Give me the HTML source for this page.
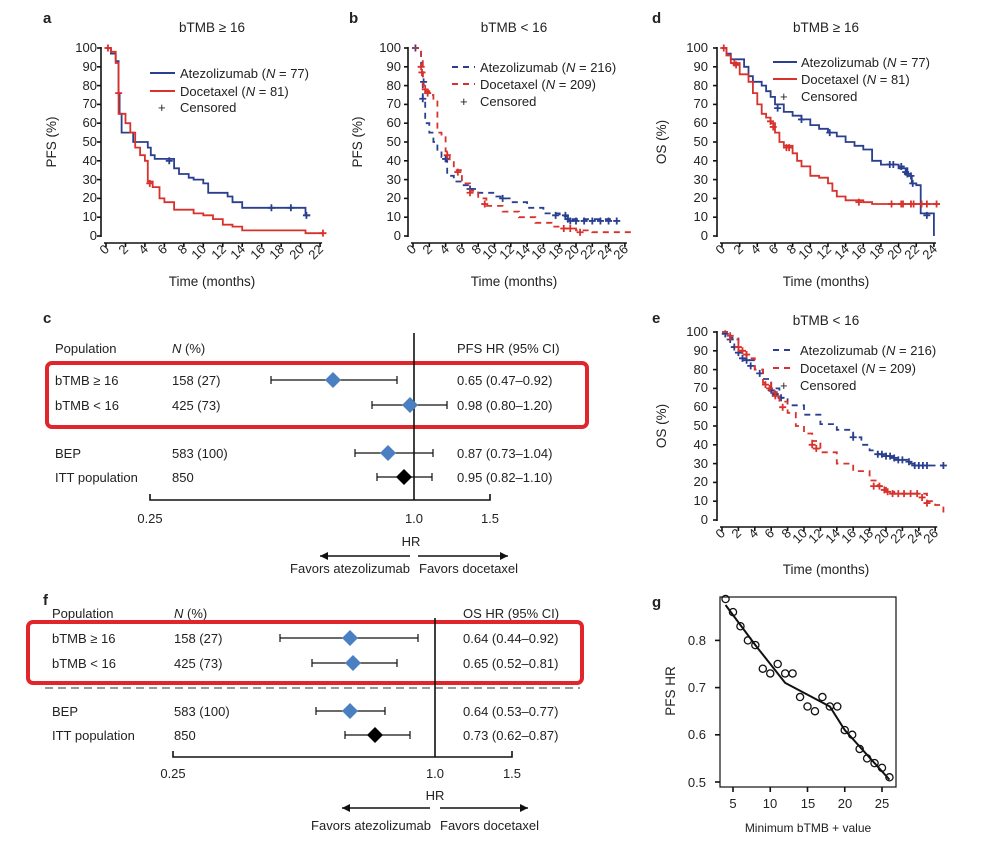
<!DOCTYPE html>
<html><head><meta charset="utf-8"><style>
body{margin:0;background:#fff}
svg{display:block;font-family:"Liberation Sans",Arial,sans-serif;fill:#222}
text{font-size:13px}
.t{font-size:13.5px}
.b{font-weight:bold;font-size:15px}
.ax{stroke:#111;stroke-width:1.6;fill:none}
</style></head><body>
<svg id="s" width="988" height="847" viewBox="0 0 988 847" xmlns="http://www.w3.org/2000/svg">
<rect width="988" height="847" fill="#fff"/>
<text class="b" x="43" y="23">a</text><text class="b" x="349" y="23">b</text><text class="b" x="652" y="23">d</text>
<text class="b" x="43" y="323">c</text><text class="b" x="652" y="323">e</text>
<text class="b" x="43" y="605">f</text><text class="b" x="652" y="607">g</text>
<text class="t" x="212" y="32" text-anchor="middle">bTMB ≥ 16</text>
<text class="t" x="514" y="32" text-anchor="middle">bTMB &lt; 16</text>
<text class="t" x="826" y="32" text-anchor="middle">bTMB ≥ 16</text>
<text class="t" x="826" y="325" text-anchor="middle">bTMB &lt; 16</text>
<text class="t" transform="translate(56,142) rotate(-90)" text-anchor="middle">PFS (%)</text>
<text class="t" transform="translate(362,142) rotate(-90)" text-anchor="middle">PFS (%)</text>
<text class="t" transform="translate(666,142) rotate(-90)" text-anchor="middle">OS (%)</text>
<text class="t" transform="translate(666,426) rotate(-90)" text-anchor="middle">OS (%)</text>
<text class="t" x="212" y="286" text-anchor="middle">Time (months)</text>
<text class="t" x="514" y="286" text-anchor="middle">Time (months)</text>
<text class="t" x="826" y="286" text-anchor="middle">Time (months)</text>
<text class="t" x="826" y="574" text-anchor="middle">Time (months)</text>
<g id="yt" text-anchor="end">
<text x="97" y="52">100</text><text x="97" y="71">90</text><text x="97" y="90">80</text><text x="97" y="108">70</text><text x="97" y="127">60</text><text x="97" y="146">50</text><text x="97" y="165">40</text><text x="97" y="184">30</text><text x="97" y="202">20</text><text x="97" y="221">10</text><text x="97" y="240">0</text>
</g>
<g transform="translate(304,0)" text-anchor="end">
<text x="97" y="52">100</text><text x="97" y="71">90</text><text x="97" y="90">80</text><text x="97" y="108">70</text><text x="97" y="127">60</text><text x="97" y="146">50</text><text x="97" y="165">40</text><text x="97" y="184">30</text><text x="97" y="202">20</text><text x="97" y="221">10</text><text x="97" y="240">0</text>
</g>
<g transform="translate(611,0)" text-anchor="end">
<text x="97" y="52">100</text><text x="97" y="71">90</text><text x="97" y="90">80</text><text x="97" y="108">70</text><text x="97" y="127">60</text><text x="97" y="146">50</text><text x="97" y="165">40</text><text x="97" y="184">30</text><text x="97" y="202">20</text><text x="97" y="221">10</text><text x="97" y="240">0</text>
</g>
<g transform="translate(611,284)" text-anchor="end">
<text x="97" y="52">100</text><text x="97" y="71">90</text><text x="97" y="90">80</text><text x="97" y="108">70</text><text x="97" y="127">60</text><text x="97" y="146">50</text><text x="97" y="165">40</text><text x="97" y="184">30</text><text x="97" y="202">20</text><text x="97" y="221">10</text><text x="97" y="240">0</text>
</g>
<g text-anchor="end">
<text transform="translate(110,250) rotate(-45)">0</text><text transform="translate(129,250) rotate(-45)">2</text><text transform="translate(149,250) rotate(-45)">4</text><text transform="translate(168,250) rotate(-45)">6</text><text transform="translate(188,250) rotate(-45)">8</text><text transform="translate(207,250) rotate(-45)">10</text><text transform="translate(227,250) rotate(-45)">12</text><text transform="translate(246,250) rotate(-45)">14</text><text transform="translate(266,250) rotate(-45)">16</text><text transform="translate(285,250) rotate(-45)">18</text><text transform="translate(305,250) rotate(-45)">20</text><text transform="translate(324,250) rotate(-45)">22</text>
</g>
<g text-anchor="end">
<text transform="translate(417,250) rotate(-45)">0</text><text transform="translate(433,250) rotate(-45)">2</text><text transform="translate(450,250) rotate(-45)">4</text><text transform="translate(466,250) rotate(-45)">6</text><text transform="translate(482,250) rotate(-45)">8</text><text transform="translate(498,250) rotate(-45)">10</text><text transform="translate(515,250) rotate(-45)">12</text><text transform="translate(531,250) rotate(-45)">14</text><text transform="translate(547,250) rotate(-45)">16</text><text transform="translate(564,250) rotate(-45)">18</text><text transform="translate(580,250) rotate(-45)">20</text><text transform="translate(596,250) rotate(-45)">22</text><text transform="translate(613,250) rotate(-45)">24</text><text transform="translate(629,250) rotate(-45)">26</text>
</g>
<g text-anchor="end">
<text transform="translate(726,250) rotate(-45)">0</text><text transform="translate(744,250) rotate(-45)">2</text><text transform="translate(761,250) rotate(-45)">4</text><text transform="translate(779,250) rotate(-45)">6</text><text transform="translate(797,250) rotate(-45)">8</text><text transform="translate(814,250) rotate(-45)">10</text><text transform="translate(832,250) rotate(-45)">12</text><text transform="translate(850,250) rotate(-45)">14</text><text transform="translate(867,250) rotate(-45)">16</text><text transform="translate(885,250) rotate(-45)">18</text><text transform="translate(903,250) rotate(-45)">20</text><text transform="translate(920,250) rotate(-45)">22</text><text transform="translate(938,250) rotate(-45)">24</text>
</g>
<g text-anchor="end">
<text transform="translate(726,534) rotate(-45)">0</text><text transform="translate(742,534) rotate(-45)">2</text><text transform="translate(759,534) rotate(-45)">4</text><text transform="translate(775,534) rotate(-45)">6</text><text transform="translate(792,534) rotate(-45)">8</text><text transform="translate(808,534) rotate(-45)">10</text><text transform="translate(824,534) rotate(-45)">12</text><text transform="translate(841,534) rotate(-45)">14</text><text transform="translate(857,534) rotate(-45)">16</text><text transform="translate(874,534) rotate(-45)">18</text><text transform="translate(890,534) rotate(-45)">20</text><text transform="translate(906,534) rotate(-45)">22</text><text transform="translate(923,534) rotate(-45)">24</text><text transform="translate(939,534) rotate(-45)">26</text>
</g>
<g class="t">
<line x1="150" y1="73" x2="175" y2="73" stroke="#2a3f8f" stroke-width="2"/><text x="180" y="78">Atezolizumab (<tspan font-style="italic">N</tspan> = 77)</text>
<line x1="150" y1="91" x2="175" y2="91" stroke="#d9312b" stroke-width="2"/><text x="180" y="96">Docetaxel (<tspan font-style="italic">N</tspan> = 81)</text>
<text x="158" y="112">+</text><text x="180" y="112">Censored</text>
<line x1="452" y1="67" x2="475" y2="67" stroke="#2a3f8f" stroke-width="2" stroke-dasharray="6 5"/><text x="480" y="72">Atezolizumab (<tspan font-style="italic">N</tspan> = 216)</text>
<line x1="452" y1="84" x2="475" y2="84" stroke="#d9312b" stroke-width="2" stroke-dasharray="6 5"/><text x="480" y="89">Docetaxel (<tspan font-style="italic">N</tspan> = 209)</text>
<text x="460" y="106">+</text><text x="480" y="106">Censored</text>
<line x1="773" y1="62" x2="797" y2="62" stroke="#2a3f8f" stroke-width="2"/><text x="801" y="67">Atezolizumab (<tspan font-style="italic">N</tspan> = 77)</text>
<line x1="773" y1="79" x2="797" y2="79" stroke="#d9312b" stroke-width="2"/><text x="801" y="84">Docetaxel (<tspan font-style="italic">N</tspan> = 81)</text>
<text x="780" y="101">+</text><text x="801" y="101">Censored</text>
<line x1="773" y1="350" x2="795" y2="350" stroke="#2a3f8f" stroke-width="2" stroke-dasharray="6 5"/><text x="800" y="355">Atezolizumab (<tspan font-style="italic">N</tspan> = 216)</text>
<line x1="773" y1="368" x2="795" y2="368" stroke="#d9312b" stroke-width="2" stroke-dasharray="6 5"/><text x="800" y="373">Docetaxel (<tspan font-style="italic">N</tspan> = 209)</text>
<text x="780" y="390">+</text><text x="800" y="390">Censored</text>
</g>
<g class="t">
<text x="55" y="353">Population</text><text x="172" y="353"><tspan font-style="italic">N</tspan> (%)</text><text x="457" y="353">PFS HR (95% CI)</text>
<text x="55" y="385">bTMB ≥ 16</text><text x="172" y="385">158 (27)</text><text x="457" y="385">0.65 (0.47–0.92)</text>
<text x="55" y="410">bTMB &lt; 16</text><text x="172" y="410">425 (73)</text><text x="457" y="410">0.98 (0.80–1.20)</text>
<text x="55" y="458">BEP</text><text x="172" y="458">583 (100)</text><text x="457" y="458">0.87 (0.73–1.04)</text>
<text x="55" y="482">ITT population</text><text x="172" y="482">850</text><text x="457" y="482">0.95 (0.82–1.10)</text>
<text x="150" y="523" text-anchor="middle">0.25</text><text x="414" y="523" text-anchor="middle">1.0</text><text x="490" y="523" text-anchor="middle">1.5</text>
<text x="411" y="546" text-anchor="middle">HR</text>
<text x="410" y="573" text-anchor="end">Favors atezolizumab</text><text x="419" y="573">Favors docetaxel</text>
</g>
<rect x="47" y="363" width="540" height="64" rx="5" fill="none" stroke="#e0262a" stroke-width="4"/>
<line x1="414" y1="333" x2="414" y2="500" class="ax"/>
<path d="M150 494V500H490V494" class="ax"/>
<g class="t">
<text x="52" y="618">Population</text><text x="174" y="618"><tspan font-style="italic">N</tspan> (%)</text><text x="463" y="618">OS HR (95% CI)</text>
<text x="52" y="643">bTMB ≥ 16</text><text x="174" y="643">158 (27)</text><text x="463" y="643">0.64 (0.44–0.92)</text>
<text x="52" y="668">bTMB &lt; 16</text><text x="174" y="668">425 (73)</text><text x="463" y="668">0.65 (0.52–0.81)</text>
<text x="52" y="716">BEP</text><text x="174" y="716">583 (100)</text><text x="463" y="716">0.64 (0.53–0.77)</text>
<text x="52" y="740">ITT population</text><text x="174" y="740">850</text><text x="463" y="740">0.73 (0.62–0.87)</text>
<text x="173" y="778" text-anchor="middle">0.25</text><text x="435" y="778" text-anchor="middle">1.0</text><text x="512" y="778" text-anchor="middle">1.5</text>
<text x="435" y="800" text-anchor="middle">HR</text>
<text x="431" y="830" text-anchor="end">Favors atezolizumab</text><text x="440" y="830">Favors docetaxel</text>
</g>
<rect x="28" y="622" width="554" height="61" rx="5" fill="none" stroke="#e0262a" stroke-width="4"/>
<line x1="45" y1="688" x2="580" y2="688" stroke="#999" stroke-width="2" stroke-dasharray="8 5"/>
<line x1="435" y1="618" x2="435" y2="757" class="ax"/>
<path d="M173 751V757H512V751" class="ax"/>
<rect x="720" y="597" width="176" height="190" fill="none" stroke="#111" stroke-width="1.2"/>
<g text-anchor="end" class="t">
<text x="706" y="645">0.8</text><text x="706" y="692">0.7</text><text x="706" y="739">0.6</text><text x="706" y="787">0.5</text></g>
<g text-anchor="middle" class="t">
<text x="733" y="808">5</text><text x="770" y="808">10</text><text x="808" y="808">15</text><text x="845" y="808">20</text><text x="882" y="808">25</text>
<text x="808" y="832" style="font-size:12px">Minimum bTMB + value</text></g>
<text class="t" transform="translate(675,691) rotate(-90)" text-anchor="middle">PFS HR</text>
<g id="dyn"></g>
</svg>
<script>
var g=document.getElementById("dyn"),h="";
function ax(x0,y0,dx,dy,n,step){
 var xa=x0-5,ya=y0+7,s="";
 s+='<path class="ax" d="M'+xa+' '+(y0-100*dy-1)+'V'+(y0+1)+'"/>';
 for(var v=0;v<=100;v+=10)s+='<line class="ax" x1="'+(xa-4)+'" x2="'+xa+'" y1="'+(y0-v*dy)+'" y2="'+(y0-v*dy)+'"/>';
 s+='<path class="ax" d="M'+(x0-2)+' '+ya+'H'+(x0+n*dx+2)+'"/>';
 for(var t=0;t<=n;t+=step)s+='<line class="ax" x1="'+(x0+t*dx)+'" x2="'+(x0+t*dx)+'" y1="'+ya+'" y2="'+(ya+4)+'"/>';
 return s;}
function km(x0,y0,dx,dy,pts,col,dash,cens){
 var d="M"+(x0+pts[0][0]*dx)+" "+(y0-pts[0][1]*dy);
 for(var i=1;i<pts.length;i++){d+="H"+(x0+pts[i][0]*dx).toFixed(1)+"V"+(y0-pts[i][1]*dy).toFixed(1);}
 var s='<path d="'+d+'" fill="none" stroke="'+col+'" stroke-width="1.8"'+(dash?' stroke-dasharray="6 5"':'')+'/>';
 (cens||[]).forEach(function(c){var x=x0+c[0]*dx,y=y0-c[1]*dy;s+='<path d="M'+(x-3.5)+' '+y+'h7M'+x+' '+(y-3.5)+'v7" stroke="'+col+'" stroke-width="1.8"/>';});
 return s;}
var B="#2a3f8f",R="#d9312b";
h+=ax(106,236,9.73,1.88,22,2);
h+=km(106,236,9.73,1.88,[[0,100],[0.5,97],[1,93],[1.3,76],[1.4,65],[1.6,55],[2.5,55],[2.8,50],[4,50],[4.3,47],[4.6,43],[5,41],[6.5,41],[7,36],[7.5,33],[8.5,31],[9,30],[10,28],[10.5,23],[12,23],[12.5,21],[13,18],[14,15],[20,15],[20.5,11],[21,11]],B,0,[[6.5,40],[17,15],[19,15],[20.6,11]]);
h+=km(106,236,9.73,1.88,[[0,100],[0.5,98],[1,92],[1.3,65],[2,60],[2.5,55],[3,47],[3.5,43],[4,40],[4.3,29],[4.8,26],[5.5,20],[6,18],[7,14],[9,12],[10,11],[11,9],[12,6],[13,5],[14,3],[20,3],[20.5,1.5],[22.3,1.5]],R,0,[[1.3,76],[4.5,28],[22.3,1.5],[0.2,100]]);
h+=ax(413,236,8.15,1.88,26,2);
h+=km(413,236,8.15,1.88,[[0,100],[0.8,98],[1,90],[1.2,73],[1.5,60],[2,55],[2.5,50],[3,45],[3.5,42],[4,40],[4.2,32],[5,29],[6,27],[7,25],[8,23],[10,21],[11,20],[12,18],[14,15],[16,12],[18,10.5],[19,9],[25,9]],B,1,[[0.3,100],[1.2,73],[1.3,82],[4,41],[7,25],[11,20],[17.5,11],[18.7,11],[19,9],[19.3,8],[20,8],[21,8],[22,8],[23,8],[24,8],[25,8]]);
h+=km(413,236,8.15,1.88,[[0,100],[1,95],[1.2,80],[1.5,77],[2,75],[2.5,72],[3,55],[3.5,53],[4,45],[4.5,40],[5,35],[6,28],[7,24],[8,20],[9,16],[11,13],[13,10],[15,7],[17,5],[18,4],[20,3],[22,2],[27,2]],R,1,[[1,90],[1.1,87],[1.5,78],[1.8,76],[4.2,43],[5.5,34],[7,23],[8.8,17],[18.5,4],[19.3,4],[20.5,2]]);
h+=ax(722,236,8.83,1.88,24,2);
h+=km(722,236,8.83,1.88,[[0,100],[0.5,97],[1,94],[2,94],[2.5,90],[3,85],[3.5,82],[4.5,80],[5,77],[5.5,74],[6,70],[7,66],[8,64],[9,62],[10,59],[11,57],[12,55],[13,53],[14,50],[15,48],[16,46],[17,40],[18,38],[19,38],[20,36],[21,32],[21.5,28],[22,27],[22.5,12],[23.5,12],[24,0]],B,0,[[6.3,68],[9,62],[12.2,55],[19,38],[19.4,38],[20.3,37],[20.8,34],[21,33],[21.4,32],[21.6,28],[23.2,11]]);
h+=km(722,236,8.83,1.88,[[0,100],[0.5,96],[1,92],[2,86],[3,82],[3.5,76],[4,70],[4.5,65],[5,63],[5.5,60],[6,55],[6.5,50],[7,48],[8,44],[8.5,40],[9,37],[10,32],[11,31],[12,28],[12.5,24],[13,21],[14,19],[16,18],[17,17],[24.5,17]],R,0,[[0.2,100],[1.4,92],[1.6,91],[5.5,61],[5.8,58],[7.3,47],[7.6,47],[15.5,18],[19.2,17],[20.3,17],[20.5,17],[21.4,17],[21.7,17],[22.6,17],[23.2,17],[24.3,17]]);
h+=ax(722,520,8.2,1.88,26,2);
h+=km(722,520,8.2,1.88,[[0,100],[1,97],[2,90],[3,85],[4,80],[5,75],[6,70],[7,65],[8,61],[10,56],[12,51],[14,48],[16,44],[17,40],[18,37],[19,35],[20,34],[21,32],[23,30],[24,29],[27,29]],B,1,[[0.4,99],[1,96],[1.5,92],[2,89],[2.5,86],[3,85],[3.5,82],[4.6,78],[6,69],[6.5,67],[7.2,65],[16,44],[19,35],[19.5,35],[20,34],[20.5,34],[21,33],[21.5,32],[22,32],[22.8,31],[23.5,29],[24,29],[24.5,29],[25,29],[27,29]]);
h+=km(722,520,8.2,1.88,[[0,100],[1,96],[2,90],[3,86],[4,80],[5,73],[6,68],[7,63],[8,57],[9,50],[10,46],[11,42],[12,36],[14,30],[16,26],[18,21],[19,18],[20,15],[21,14],[24,14],[25,10],[26,8],[27,8],[27,4]],R,1,[[1,98],[2,92],[2.5,90],[3,88],[5.3,72],[5.8,70],[6.5,66],[7.4,60],[11,40],[11.5,38],[18.5,18],[19.2,18],[19.8,16],[20.2,15],[20.8,14],[21.5,14],[22.2,14],[23,14],[23.8,14],[24.4,12],[25,9]]);
function fr(y,a,b,m,col){var s='<path d="M'+a+' '+y+'H'+b+'M'+a+' '+(y-4)+'v8M'+b+' '+(y-4)+'v8" stroke="#111" stroke-width="1.2"/>';
 s+='<path d="M'+m+' '+(y-8)+'l8 8l-8 8l-8-8z" fill="'+col+'"/>';return s;}
var D="#4a80c2";
h+=fr(380,271,397,333,D)+fr(405,372,447,410,D)+fr(453,355,433,388,D)+fr(477,377,432,404,"#000");
h+=fr(638,280,418,350,D)+fr(663,312,397,353,D)+fr(711,316,385,350,D)+fr(735,345,410,375,"#000");
function arr(y,x1,x2,x3,x4){return '<path d="M'+x1+' '+y+'H'+x2+'M'+x3+' '+y+'H'+x4+'" stroke="#111" stroke-width="1.5"/><path d="M'+x2+' '+y+'l8 -4v8z M'+x4+' '+y+'l-8 -4v8z" fill="#111"/>';}
h+=arr(556,410,320,418,508)+arr(808,430,342,440,528);
var P=[[4,.89],[5,.86],[6,.83],[7,.80],[8,.79],[9,.74],[10,.73],[11,.75],[12,.73],[13,.73],[14,.68],[15,.66],[16,.65],[17,.68],[18,.66],[19,.66],[20,.61],[21,.60],[22,.57],[23,.55],[24,.54],[25,.53],[26,.51]];
function gx(v){return 733+(v-5)*7.45}function gy(v){return 782-(v-.5)*472}
for(var i=0;i<5;i++){var x=733+i*37.25;h+='<line class="ax" x1="'+x+'" x2="'+x+'" y1="787" y2="792"/>';}
[.8,.7,.6,.5].forEach(function(v){h+='<line class="ax" x1="715" x2="720" y1="'+gy(v)+'" y2="'+gy(v)+'"/>';});
P.forEach(function(p){var y=gy(p[1]);if(y<599)y=599;h+='<circle cx="'+gx(p[0])+'" cy="'+y+'" r="3.6" fill="none" stroke="#111" stroke-width="1.3"/>';});
var L=[[4,.875],[8,.79],[12,.71],[18,.66],[20,.61],[26,.505]];
h+='<path d="M'+L.map(function(p){return gx(p[0])+' '+gy(p[1])}).join('L')+'" fill="none" stroke="#111" stroke-width="2"/>';
g.innerHTML=h;
</script>
</body></html>
